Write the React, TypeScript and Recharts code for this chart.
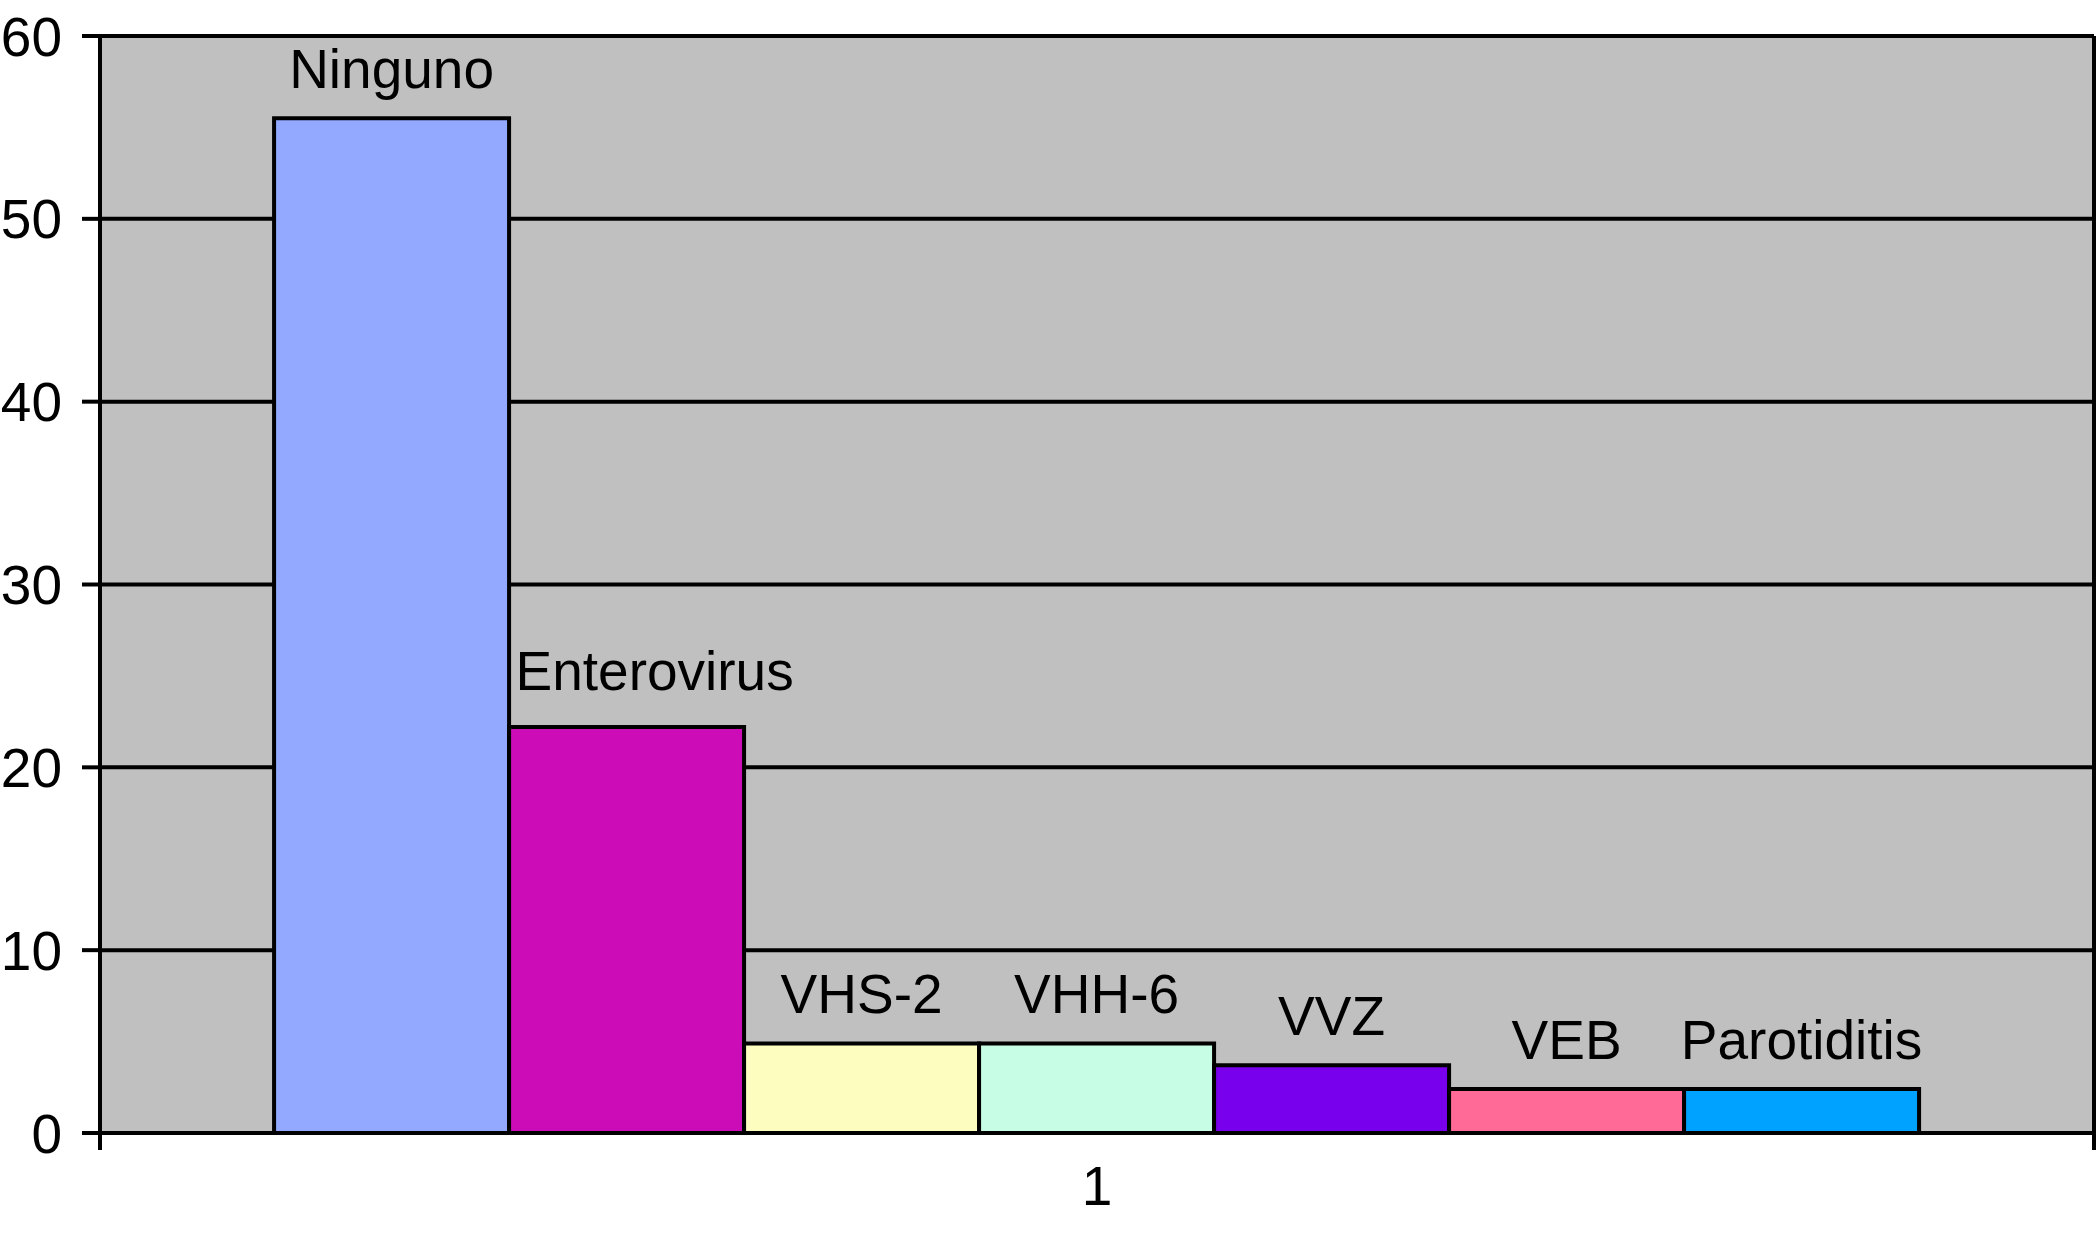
import { BarChart, Bar, XAxis, YAxis, CartesianGrid, LabelList } from "recharts";

const categories = ["1"];
const seriesNames = ["Ninguno", "Enterovirus", "VHS-2", "VHH-6", "VVZ", "VEB", "Parotiditis"];
const seriesValues = [55.5, 22.2, 4.9, 4.9, 3.7, 2.4, 2.4];
const seriesColors = ["#93A9FF", "#CC0CB6", "#FDFDC0", "#C8FDE5", "#7800EC", "#FF6B96", "#00A2FF"];
const yTicks = [0, 10, 20, 30, 40, 50, 60];

// Excel nudged the Enterovirus label off the tall bar next to it
const labelShift: Record<string, [number, number]> = { Enterovirus: [28, -7] };

const data = categories.map((cat) => {
  const row: Record<string, string | number> = { cat };
  seriesNames.forEach((name, i) => {
    row[name] = seriesValues[i];
  });
  return row;
});

const font = "'Liberation Sans', Arial, sans-serif";
const TICK_MARGIN = 33;

const seriesLabel = (name: string) => (p: any) => {
  const [dx, dy] = labelShift[name] ?? [0, 0];
  return (
    <text
      x={Number(p.x) + Number(p.width) / 2 + dx}
      y={Number(p.y) - 30 + dy}
      textAnchor="middle"
      fontSize={55}
      fontFamily={font}
      fill="#000"
    >
      {name}
    </text>
  );
};

// category label plus Excel-style tick marks on the band edges
const CategoryTick = (p: any) => {
  const half = p.payload?.offset ?? Number(p.width) / 2;
  const axisY = Number(p.y) - TICK_MARGIN;
  const x = Number(p.x);
  return (
    <g>
      <line x1={x - half} x2={x - half} y1={axisY} y2={axisY + 17} stroke="#000" strokeWidth={4} />
      <line x1={x + half} x2={x + half} y1={axisY} y2={axisY + 17} stroke="#000" strokeWidth={4} />
      <text x={x} y={p.y} dy="0.71em" textAnchor="middle" fontSize={55} fontFamily={font} fill="#000">
        {p.payload?.value}
      </text>
    </g>
  );
};

export default function App() {
  return (
    <div style={{ position: "absolute", left: 0, top: 0, background: "#fff" }}>
      <BarChart
        width={2097}
        height={1236}
        data={data}
        margin={{ top: 36, right: 0, bottom: 23, left: 0 }}
        barCategoryGap="8.73%"
        barGap={0}
        style={{ fontFamily: font }}
      >
        <CartesianGrid
          vertical={false}
          fill="#C0C0C0"
          fillOpacity={1}
          stroke="#000"
          strokeWidth={4}
        />
        <XAxis
          dataKey="cat"
          tickLine={false}
          tickSize={0}
          tickMargin={TICK_MARGIN}
          axisLine={{ stroke: "#000", strokeWidth: 4 }}
          tick={<CategoryTick />}
          height={80}
        />
        <YAxis
          domain={[0, 60]}
          ticks={yTicks}
          width={100}
          tickSize={18}
          tickMargin={20}
          tickLine={{ stroke: "#000", strokeWidth: 4 }}
          axisLine={{ stroke: "#000", strokeWidth: 4 }}
          tick={{ fill: "#000", fontSize: 55 }}
        />
        <YAxis
          yAxisId="right"
          orientation="right"
          domain={[0, 60]}
          width={3}
          tick={false}
          tickLine={false}
          axisLine={{ stroke: "#000", strokeWidth: 4 }}
        />
        {seriesNames.map((name, i) => (
          <Bar
            key={name}
            dataKey={name}
            fill={seriesColors[i]}
            stroke="#000"
            strokeWidth={4}
            isAnimationActive={false}
          >
            <LabelList content={seriesLabel(name)} />
          </Bar>
        ))}
      </BarChart>
    </div>
  );
}
